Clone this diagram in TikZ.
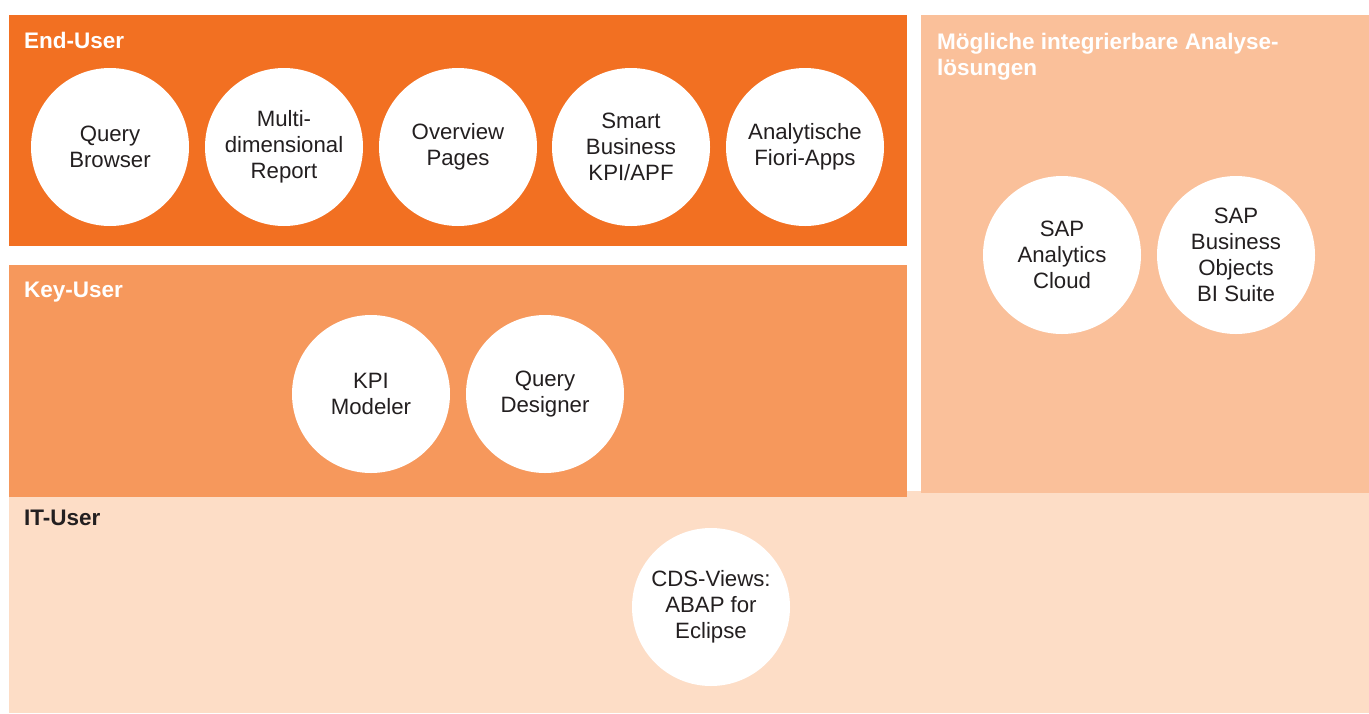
\documentclass[tikz,border=0pt]{standalone}
\usepackage{fontspec}
\setmainfont{Liberation Sans}
\definecolor{enduser}{HTML}{F27022}
\definecolor{keyuser}{HTML}{F6985C}
\definecolor{analyse}{HTML}{FAC09A}
\definecolor{ituser}{HTML}{FDDDC6}
\definecolor{darktext}{HTML}{231F20}
\begin{document}
\begin{tikzpicture}[x=1pt,y=-1pt,
  bubble/.style={circle,fill=white,draw=none,minimum size=158pt,inner sep=0pt,align=center,
    text=darktext,font=\fontsize{22.2}{26}\selectfont},
  heading/.style={anchor=base west,inner sep=0pt,font=\fontsize{22.5}{26}\selectfont\bfseries,align=left}]
\useasboundingbox (0,0) rectangle (1369,713);
\fill[white] (0,0) rectangle (1369,713);
% panels
\fill[ituser] (9,491) rectangle (1369,713);
\fill[analyse] (921,15) rectangle (1369,493);
\fill[keyuser] (9,265) rectangle (907,497);
\fill[enduser] (9,15) rectangle (907,246);
% headings
\node[heading,text=white] (hEnd) at (24,48) {End-User};
\node[heading,text=white] (hKey) at (24,297) {Key-User};
\node[heading,text=darktext] (hIT) at (24,525) {IT-User};
\node[heading,text=white] (hAna) at (937,49) {M\"ogliche integrierbare Analyse-};
\node[heading,text=white] (hAna2) at (937,75) {l\"osungen};
% end-user bubbles
\node[bubble] (qb) at (110,147) {Query\\Browser};
\node[bubble] (mdr) at (284,147) {Multi-\\dimensional\\Report};
\node[bubble] (ovp) at (458,147) {Overview\\Pages};
\node[bubble] (sbk) at (631,147) {Smart\\Business\\KPI/APF};
\node[bubble] (afa) at (805,147) {Analytische\\Fiori-Apps};
% key-user bubbles
\node[bubble] (kpi) at (371,394) {KPI\\Modeler};
\node[bubble] (qd) at (545,394) {Query\\Designer};
% analysis bubbles
\node[bubble] (sac) at (1062,255) {SAP\\Analytics\\Cloud};
\node[bubble] (bo) at (1236,255) {SAP\\Business\\Objects\\BI Suite};
% it-user bubble
\node[bubble] (cds) at (711,607) {CDS-Views:\\ABAP for\\Eclipse};
\end{tikzpicture}
\end{document}
